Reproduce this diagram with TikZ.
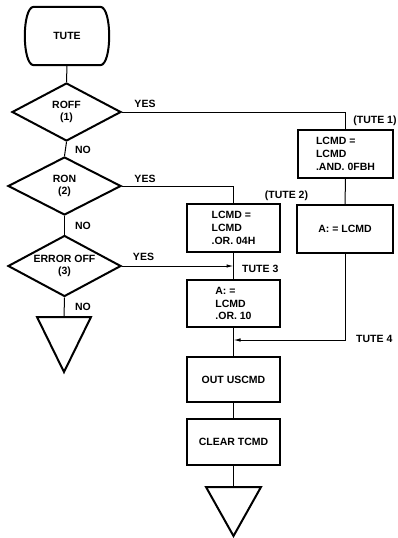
\documentclass[tikz,border=0pt]{standalone}
\usepackage{fontspec}
\setmainfont{Liberation Sans}
\usetikzlibrary{shapes.geometric,arrows.meta}
\begin{document}
\begin{tikzpicture}[x=1pt,y=-1pt,
  txt/.style={font=\bfseries\fontsize{10.5}{12.8}\selectfont},
  box/.style={txt,draw,line width=2pt,minimum width=93pt,minimum height=47pt,align=left,inner sep=0pt},
  dec/.style={txt,draw,diamond,line width=2pt,shape aspect=2,minimum width=112pt,minimum height=58pt,align=center,inner sep=0pt,font=\bfseries\fontsize{10.5}{12}\selectfont},
  conn/.style={line width=1pt},
  arr/.style={conn,-{Latex[length=7pt,width=3.5pt]}},
  lbl/.style={txt,inner sep=0pt},
  shapeline/.style={line width=2pt,line join=miter}]
\useasboundingbox (0,0) rectangle (398,538);
\fill[white] (0,0) rectangle (398,538);

% terminal
\node[txt,minimum width=66pt,minimum height=58pt,inner sep=0pt] (tute) at (67,36) {TUTE};
\draw[shapeline] (tute.north west) -- (tute.north east)
  .. controls +(12,0) and +(12,0) .. (tute.south east) -- (tute.south west)
  .. controls +(-12,0) and +(-12,0) .. (tute.north west) -- cycle;

% decisions
\node[dec,minimum width=109pt] (d1) at (66.5,112) {ROFF\\(1)};
\node[dec,minimum width=113pt] (d2) at (64.5,186) {RON\\(2)};
\node[dec,minimum width=113pt,minimum height=61pt] (d3) at (64.5,266) {ERROR OFF\\(3)};

% boxes
\node[box,minimum width=95pt,minimum height=48pt] (b1) at (345.5,154) {LCMD =\\LCMD\\.AND. 0FBH};
\node[box,minimum width=96pt,minimum height=48pt] (bA) at (345,229) {A: = LCMD};
\node[box,minimum height=48pt] (b2) at (233.5,228) {LCMD =\\LCMD\\.OR. 04H};
\node[box] (b3) at (233.5,303.5) {A: =\\LCMD\\.OR. 10};
\node[box,minimum height=45pt] (b4) at (233.5,379.5) {OUT USCMD};
\node[box,minimum height=46pt] (b5) at (233.5,442) {CLEAR TCMD};

% off-page triangles
\coordinate (e1) at (64,317);
\coordinate (e2) at (233.5,487);
\draw[shapeline] (e1) ++(-27,0) -- ++(54,0) -- ++(-27,55) -- cycle;
\draw[shapeline] (e2) ++(-27.5,0) -- ++(55,0) -- ++(-27.5,49) -- cycle;

% junction
\coordinate (j4) at (233.5,340);

% connectors
\draw[conn] (tute.south) -- (d1.north);
\draw[conn] (d1.south) -- (d2.north);
\draw[conn] (d2.south) -- (d3.north);
\draw[conn] (d3.south) -- (e1);
\draw[conn] (d1.east) -| (b1.north);
\draw[conn] (d2.east) -| (b2.north);
\draw[arr] (d3.east) -- (d3.east -| b2.south);
\draw[conn] (b1.south) -- (bA.north);
\draw[conn] (b2.south) -- (b3.north);
\draw[conn] (b3.south) -- (b4.north);
\draw[arr] (bA.south) |- (j4);
\draw[conn] (b4.south) -- (b5.north);
\draw[conn] (b5.south) -- (e2);

% labels
\node[lbl] (y1) at (145,103.5) {YES};
\node[lbl] (n1) at (83,150) {NO};
\node[lbl] (y2) at (145,179) {YES};
\node[lbl] (n2) at (83,226) {NO};
\node[lbl] (y3) at (143.5,257) {YES};
\node[lbl] (n3) at (83,306.5) {NO};
\node[lbl] (t1) at (375,121) {(TUTE 1)};
\node[lbl] (t2) at (286.5,196) {(TUTE 2)};
\node[lbl,anchor=west] (t3) at (242,269) {TUTE 3};
\node[lbl,anchor=west] (t4) at (356,339) {TUTE 4};
\end{tikzpicture}
\end{document}
